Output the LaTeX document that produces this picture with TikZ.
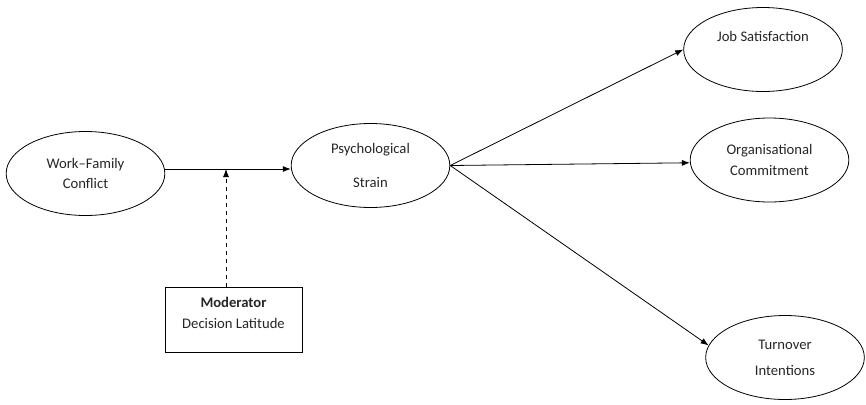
\documentclass[tikz,border=0pt]{standalone}
\usepackage{fontspec}
\setmainfont{Carlito}
\usetikzlibrary{arrows.meta,shapes.geometric}

\begin{document}
\begin{tikzpicture}[
  x=0.75pt, y=-0.75pt,
  font=\fontsize{11}{15.5}\selectfont,
  construct/.style={
    ellipse, draw, align=center, inner sep=0pt,
    text=black!85, line width=0.6pt,
    minimum width=119pt, minimum height=63pt
  },
  modbox/.style={
    rectangle, draw, align=center, inner sep=0pt,
    text=black!85, line width=0.6pt,
    minimum width=102.75pt, minimum height=48.75pt
  },
  link/.style={-{Latex[length=6pt,width=4.5pt]}, line width=0.6pt}
]
  \useasboundingbox (0,0) rectangle (866,404);
  \node[construct] (wfc) at (85.5,173.5) {Work–Family\\Conflict};
  \node[construct] (strain) at (370.5,165.5) {Psychological\\[10.5pt]Strain};
  \node[construct] (jobsat) at (763,49.5) {Job Satisfaction\\[4pt]~};
  \node[construct] (orgcom) at (769.5,160) {Organisational\\Commitment};
  \node[construct] (turnover) at (785,357.5) {Turnover\\[4pt]Intentions};
  \node[modbox] (moderator) at (233.5,319.5)
    {\textbf{Moderator}\\Decision Latitude\\[-6pt]~};
  \coordinate (jn) at (226,169);
  \draw[link] (wfc.east |- jn) -- (strain.west |- jn);
  \draw[link, dashed] (jn |- moderator.north) -- (jn);
  \draw[link] (strain.east) -- (jobsat.west);
  \draw[link] (strain.east) -- (orgcom.182);
  \draw[link] (strain.east) -- (turnover.171);
\end{tikzpicture}
\end{document}
